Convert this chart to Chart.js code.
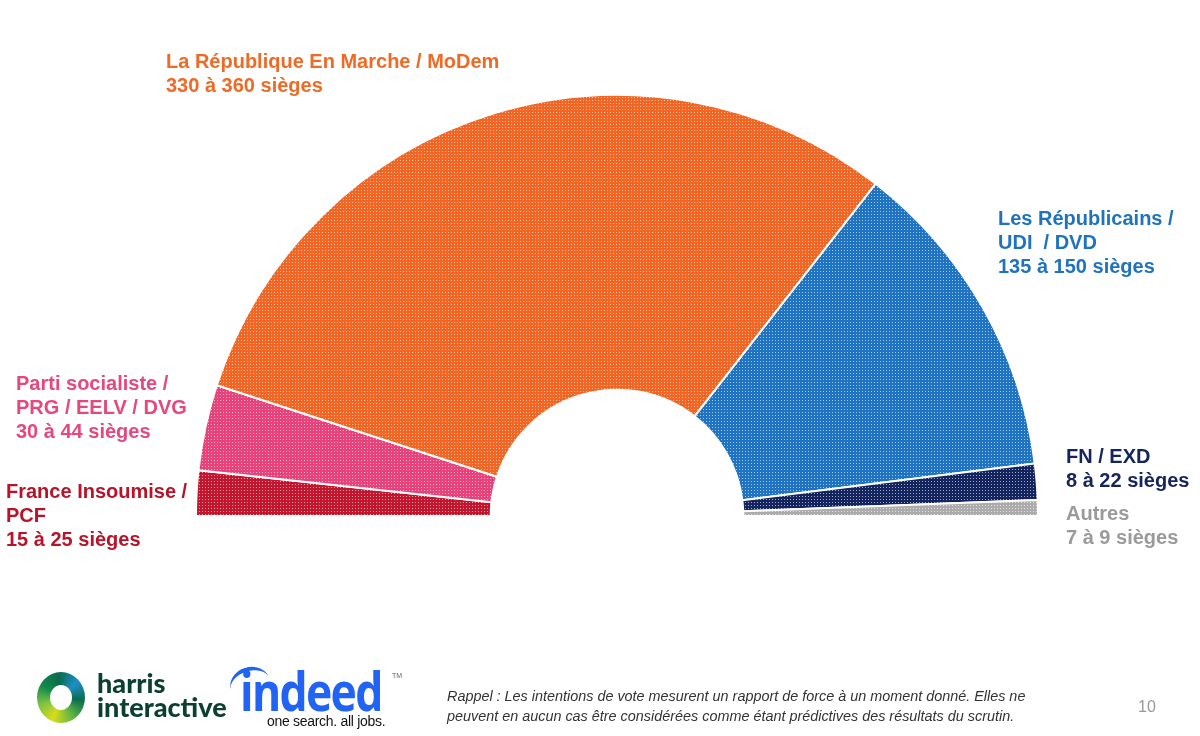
<!DOCTYPE html>
<html>
<head>
<meta charset="utf-8">
<script src="https://cdn.jsdelivr.net/npm/chart.js@4"></script>
<style>
  html, body { margin: 0; padding: 0; background: #fff; }
  #wrap { position: relative; width: 1200px; height: 736px; overflow: hidden; font-family: "Liberation Sans", Arial, sans-serif; }
  #chart-box { position: absolute; left: 0; top: 0; width: 1200px; height: 736px; }
  .lbl { position: absolute; font-weight: bold; font-size: 20px; line-height: 24px; white-space: nowrap; }
  .note { position: absolute; left: 447px; top: 686px; font-size: 14.4px; line-height: 20px; font-style: italic; color: #333; white-space: nowrap; }
  .page { position: absolute; left: 1138px; top: 698px; font-size: 16px; color: #999; }
  .ring { position: absolute; left: 37px; top: 672px; width: 48px; height: 51px; border-radius: 50%;
          background: conic-gradient(from 200deg, #d6dc1e, #7cc242, #138a4a, #0b6b4f, #1e8fc8, #0b6b4f, #5fb446, #d6dc1e); }
  .ring::after { content: ""; position: absolute; left: 13px; top: 13px; width: 22px; height: 25px; border-radius: 50%; background: #fff; }
  .harris { position: absolute; left: 97px; top: 671px; font-family: Lato, sans-serif; font-weight: 900; font-size: 27px; line-height: 24px; color: #0c3f31; }
  .arc { position: absolute; left: 230px; top: 667px; width: 40px; height: 30px; border-top: 4px solid #2164f3; border-radius: 50%; transform: rotate(-18deg); }
  .indeed { position: absolute; left: 240px; top: 654px; font-family: "Open Sans", sans-serif; font-weight: 700; font-size: 53px; letter-spacing: -2px; color: #2164f3;
            transform: scaleX(0.84); transform-origin: left top; }
  .tm { position: absolute; left: 392px; top: 672px; font-size: 7px; color: #666; }
  .slogan { position: absolute; left: 267px; top: 713px; font-family: "Liberation Sans Narrow", "Liberation Sans", sans-serif; font-size: 14px; color: #111; letter-spacing: -0.3px; }
</style>
</head>
<body>
<div id="wrap">
  <div id="chart-box"><canvas id="hemicycle"></canvas></div>

  <div class="lbl" style="left:166px; top:49px; color:#ef6a24;">La République En Marche / MoDem<br>330 à 360 sièges</div>
  <div class="lbl" style="left:998px; top:206px; color:#1f72be;">Les Républicains /<br>UDI&nbsp; / DVD<br>135 à 150 sièges</div>
  <div class="lbl" style="left:16px; top:371px; color:#e6477d;">Parti socialiste /<br>PRG / EELV / DVG<br>30 à 44 sièges</div>
  <div class="lbl" style="left:6px; top:479px; color:#b81328;">France Insoumise /<br>PCF<br>15 à 25 sièges</div>
  <div class="lbl" style="left:1066px; top:444px; color:#15255c;">FN / EXD<br>8 à 22 sièges</div>
  <div class="lbl" style="left:1066px; top:501px; color:#9a9a9a;">Autres<br>7 à 9 sièges</div>

  <div class="ring"></div>
  <div class="harris">harris<br>interactive</div>
  <div class="arc"></div>
  <div class="indeed">indeed</div>
  <div class="tm">TM</div>
  <div class="slogan">one search. all jobs.</div>

  <div class="note">Rappel : Les intentions de vote mesurent un rapport de force à un moment donné. Elles ne<br>peuvent en aucun cas être considérées comme étant prédictives des résultats du scrutin.</div>
  <div class="page">10</div>
</div>

<script>
// sièges estimés (lus sur l'angle de chaque secteur), de gauche à droite
const partis = ['France Insoumise / PCF', 'Parti socialiste / PRG / EELV / DVG', 'La République En Marche / MoDem', 'Les Républicains / UDI / DVD', 'FN / EXD', 'Autres'];
const sieges = [20, 38, 352, 144, 16, 7];
const couleurs = ['#c3162e', '#e9417a', '#f26522', '#1e74c2', '#14245f', '#acacac'];

// trame pointillée comme sur la diapo
function trame(base) {
    const c = document.createElement('canvas');
    c.width = 3;
    c.height = 3;
    const g = c.getContext('2d');
    g.fillStyle = base;
    g.fillRect(0, 0, 3, 3);
    g.fillStyle = 'rgba(255,255,255,0.6)';
    g.fillRect(1, 1, 1, 1);
    return g.createPattern(c, 'repeat');
}

new Chart(document.getElementById('hemicycle'), {
    type: 'doughnut',
    data: {
        labels: partis,
        datasets: [{
            data: sieges,
            backgroundColor: couleurs.map(trame),
            borderColor: '#ffffff',
            borderWidth: 2
        }]
    },
    options: {
        responsive: true,
        maintainAspectRatio: false,
        animation: false,
        rotation: -90,
        circumference: 180,
        cutout: '30%',
        layout: { padding: { left: 194, right: 160, top: 94, bottom: 219 } },
        plugins: {
            legend: { display: false },
            tooltip: { enabled: false }
        }
    }
});
</script>
</body>
</html>
